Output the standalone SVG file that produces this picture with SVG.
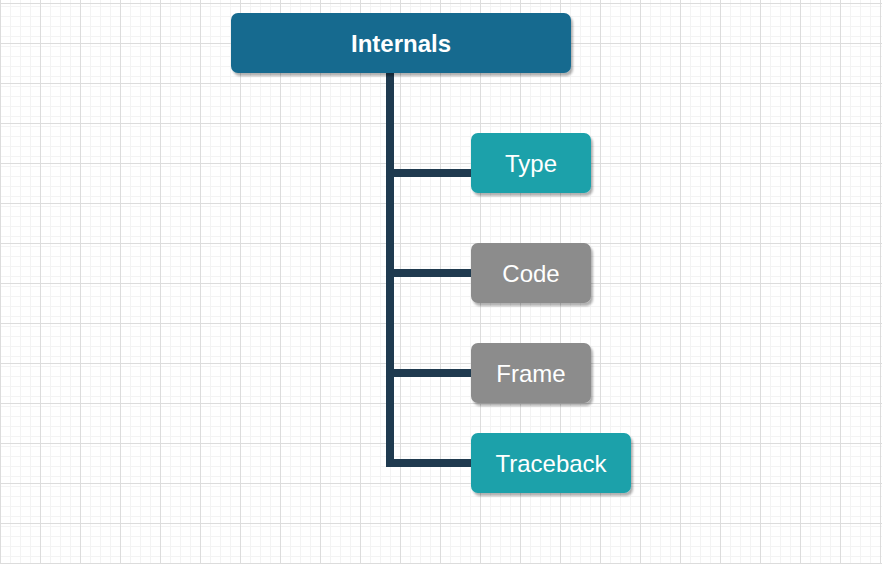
<svg xmlns="http://www.w3.org/2000/svg" width="882" height="564" viewBox="0 0 882 564">
  <defs>
    <pattern id="minor" width="10" height="10" x="0" y="3" patternUnits="userSpaceOnUse">
      <path d="M0 0.5 H10 M0.5 0 V10" fill="none" stroke="#f3f3f3" stroke-width="1"/>
    </pattern>
    <pattern id="major" width="40" height="40" x="0" y="3" patternUnits="userSpaceOnUse">
      <rect width="40" height="40" fill="url(#minor)"/>
      <path d="M0 0.5 H40 M0.5 0 V40" fill="none" stroke="#dcdcdc" stroke-width="1"/>
    </pattern>
    <filter id="shadow" x="-10%" y="-10%" width="130%" height="140%">
      <feDropShadow dx="2" dy="3" stdDeviation="1" flood-color="#000" flood-opacity="0.3"/>
    </filter>
    <style>
      .box { filter: url(#shadow); }
      .root { fill: #166a8f; }
      .teal { fill: #1ba1aa; }
      .gray { fill: #8c8c8c; }
      .label { font-family: "Liberation Sans", Arial, sans-serif; font-size: 24px; fill: #ffffff; text-anchor: middle; }
      .bold { font-weight: bold; font-size: 24px; }
      .conn { fill: none; stroke: #1f3a4f; stroke-width: 8; stroke-linejoin: miter; }
    </style>
  </defs>
  <rect width="882" height="564" fill="#ffffff"/>
  <rect width="882" height="564" fill="url(#major)"/>

  <g id="connectors">
    <path class="conn" d="M390 73 V463 H471"/>
    <path class="conn" d="M390 173 H471"/>
    <path class="conn" d="M390 273 H471"/>
    <path class="conn" d="M390 373 H471"/>
  </g>

  <g id="internals">
    <rect class="box root" x="231" y="13" width="340" height="60" rx="7"/>
    <text class="label bold" x="401" y="51.5">Internals</text>
  </g>
  <g id="type">
    <rect class="box teal" x="471" y="133" width="120" height="60" rx="7"/>
    <text class="label" x="531" y="171.5">Type</text>
  </g>
  <g id="code">
    <rect class="box gray" x="471" y="243" width="120" height="60" rx="7"/>
    <text class="label" x="531" y="281.5">Code</text>
  </g>
  <g id="frame">
    <rect class="box gray" x="471" y="343" width="120" height="60" rx="7"/>
    <text class="label" x="531" y="381.5">Frame</text>
  </g>
  <g id="traceback">
    <rect class="box teal" x="471" y="433" width="160" height="60" rx="7"/>
    <text class="label" x="551" y="471.5">Traceback</text>
  </g>
</svg>
